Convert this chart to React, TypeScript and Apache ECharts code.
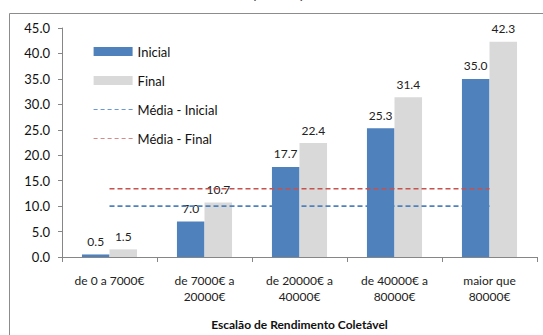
import React, { useEffect, useRef } from "react";
import * as echarts from "echarts";

const categories = [
  "de 0 a 7000€",
  "de 7000€ a\n20000€",
  "de 20000€ a\n40000€",
  "de 40000€ a\n80000€",
  "maior que\n80000€",
];
const inicial = [0.5, 7.0, 17.7, 25.3, 35.0];
const final = [1.5, 10.7, 22.4, 31.4, 42.3];
const mediaInicial = [10.0, 10.0, 10.0, 10.0, 10.0];
const mediaFinal = [13.4, 13.4, 13.4, 13.4, 13.4];

const FONT = "Lato, 'Open Sans', sans-serif";
const BLUE = "#4F81BD";
const GREY = "#D9D9D9";
const LINE_BLUE = "#4F81BD";
const LINE_RED = "#C8504D";

export default function App() {
  const ref = useRef<HTMLDivElement>(null);

  useEffect(() => {
    if (!ref.current) return;
    const chart = echarts.init(ref.current, null, { renderer: "svg" });
    const labelStyle = {
      show: true,
      position: "top" as const,
      distance: 7,
      fontFamily: FONT,
      fontSize: 12,
      color: "#222",
      formatter: (p: any) => Number(p.value).toFixed(1),
    };
    const hiddenMarker = { color: "rgba(0,0,0,0)", borderWidth: 0, opacity: 0 };
    chart.setOption({
      animation: false,
      textStyle: { fontFamily: FONT },
      graphic: [
        {
          type: "rect",
          shape: { x: 9.5, y: 13.5, width: 700, height: 500 },
          style: { fill: "none", stroke: "#8C8C8C", lineWidth: 1 },
          silent: true,
        },
        {
          type: "text",
          x: 278,
          y: -9,
          style: {
            text: "(em %)",
            font: `bold 18px ${FONT}`,
            fill: "#222",
            align: "center",
            verticalAlign: "middle",
          },
        },
      ],
      legend: {
        orient: "vertical",
        left: 88,
        top: 40,
        itemWidth: 39,
        itemHeight: 9,
        itemGap: 16,
        textStyle: { fontFamily: FONT, fontSize: 13, color: "#111" },
        data: [
          { name: "Inicial", icon: "rect" },
          { name: "Final", icon: "rect" },
          {
            name: "Média - Inicial",
            itemStyle: hiddenMarker,
            lineStyle: { color: "#6A97D6", type: [4, 3], width: 1.2 },
          },
          {
            name: "Média - Final",
            itemStyle: hiddenMarker,
            lineStyle: { color: "#D68A88", type: [4, 3], width: 1.2 },
          },
        ],
      },
      grid: { left: 62, right: 6, top: 28, bottom: 68 },
      xAxis: {
        type: "category",
        data: categories,
        axisLine: { lineStyle: { color: "#868686" } },
        axisTick: { show: true, length: 5, lineStyle: { color: "#868686" } },
        axisLabel: {
          fontFamily: FONT,
          fontSize: 12,
          color: "#222",
          lineHeight: 16,
          margin: 15,
          interval: 0,
        },
        name: "Escalão de Rendimento Coletável",
        nameLocation: "middle",
        nameGap: 61,
        nameTextStyle: { fontFamily: FONT, fontSize: 12, fontWeight: "bold", color: "#111" },
      },
      yAxis: {
        type: "value",
        min: 0,
        max: 45,
        interval: 5,
        splitLine: { show: false },
        axisLine: { show: true, lineStyle: { color: "#868686" } },
        axisTick: { show: true, length: 4, lineStyle: { color: "#868686" } },
        axisLabel: {
          fontFamily: FONT,
          fontSize: 13,
          color: "#111",
          margin: 12,
          formatter: (v: number) => v.toFixed(1),
        },
      },
      series: [
        {
          name: "Inicial",
          type: "bar",
          data: inicial,
          barGap: "0%",
          barCategoryGap: "42%",
          itemStyle: { color: BLUE },
          label: labelStyle,
        },
        {
          name: "Final",
          type: "bar",
          data: final,
          itemStyle: { color: GREY },
          label: labelStyle,
        },
        {
          name: "Média - Inicial",
          type: "line",
          data: mediaInicial,
          symbol: "none",
          z: 5,
          color: LINE_BLUE,
          lineStyle: { color: LINE_BLUE, width: 1.6, type: [5, 3] },
        },
        {
          name: "Média - Final",
          type: "line",
          data: mediaFinal,
          symbol: "none",
          z: 5,
          color: LINE_RED,
          lineStyle: { color: LINE_RED, width: 1.6, type: [5, 3] },
        },
      ],
    });
    return () => chart.dispose();
  }, []);

  return <div ref={ref} style={{ width: 543, height: 335, position: "absolute", left: 0, top: 0 }} />;
}
